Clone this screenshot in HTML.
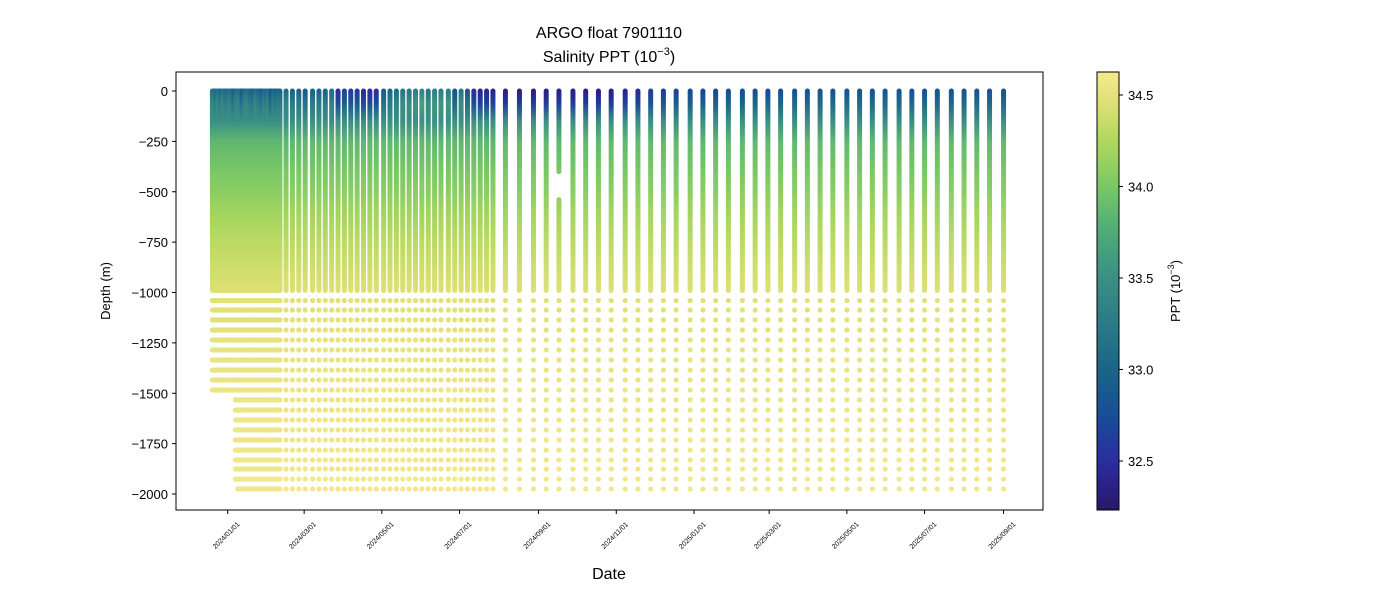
<!DOCTYPE html>
<html><head><meta charset="utf-8"><style>
body{margin:0;background:#fff;}
svg{display:block;font-family:"Liberation Sans","DejaVu Sans",sans-serif;}
</style></head><body>
<svg id="chart" width="1400" height="600" viewBox="0 0 1400 600">
<defs id="defs"></defs>
<rect width="1400" height="600" fill="#fff"/>
<text x="609" y="38" text-anchor="middle" font-size="16">ARGO float 7901110</text>
<text x="609" y="62" text-anchor="middle" font-size="16">Salinity PPT (10<tspan dy="-7" font-size="11">−3</tspan><tspan dy="7">)</tspan></text>
<g id="marks"></g>
<rect x="176" y="72" width="867" height="438" fill="none" stroke="#000" stroke-width="1"/>
<g id="axes"></g>
<text x="609" y="579" text-anchor="middle" font-size="16">Date</text>
<text transform="translate(110,291) rotate(-90)" text-anchor="middle" font-size="13">Depth (m)</text>
<rect x="1097" y="72" width="22" height="438" fill="url(#cbgrad)" stroke="#000" stroke-width="1"/>
<g id="cbaxis"></g>
<text transform="translate(1180,291) rotate(-90)" text-anchor="middle" font-size="13">PPT (10<tspan dy="-6" font-size="9">−3</tspan><tspan dy="6">)</tspan></text>
</svg>
<script>
// ---- data ----
const denseDays = [];
for (let d = -12; d <= 41; d++) denseDays.push(d);
const denseSurface = [33.2,33.1,33.2,33.0,33.1,33.2,33.1,33.0,33.1,33.2,33.1,33.1,33.0,33.1,33.2,33.1,33.1,32.9,33.0,33.1,33.1,33.2,33.1,33.0,32.8,33.0,33.1,33.1,33.2,33.1,33.0,33.1,32.9,33.0,33.1,33.2,33.1,33.0,33.1,32.8,33.0,33.1,33.1,33.0,33.2,33.1,32.9,32.8,33.0,33.1,33.0,32.9,33.1,33.0];
const midDays = [45.8,50.8,55.8,60.8,66.6,71.6,76.6,81.6,86.6,91.6,96.6,101.6,106.6,111.6,116.6,122.4,127.4,132.4,137.4,142.4,147.4,152.4,157.4,162.4,167.4,173.2,178.2,183.2,188.2,193.2,198.2,203.2,208.2];
const midSurface = [33.1,33.0,33.0,32.9,33.0,33.0,33.0,33.1,32.5,32.7,32.6,32.6,32.5,32.5,32.5,32.9,33.0,33.1,33.2,33.2,33.3,33.4,33.2,33.3,33.3,33.3,32.8,33.2,32.9,32.5,32.4,32.4,32.4];
const sparseDays = [218,229,240,250,260,271,281,291,301,312,322,332,342,352,363,373,383,393,404,414,424,434,445,455,465,475,486,496,506,516,527,537,547,557,568,578,588,598,609];
const sparseSurface = [32.35,32.35,32.35,32.35,32.35,32.35,32.35,32.35,32.35,32.4,32.45,32.6,32.6,32.65,32.7,32.7,32.7,32.75,32.75,32.75,32.75,32.75,32.8,32.8,32.8,32.8,32.8,32.8,32.8,32.8,32.8,32.8,32.8,32.8,32.8,32.8,32.8,32.8,32.8];
const profileDepths = [0,60,150,250,400,500,600,750,900,1000];
const profileSal = [null,null,33.5,33.85,34.0,34.08,34.18,34.3,34.4,34.45];
const deepDepths = [1040,1087,1136,1186,1236,1285,1335,1385,1434,1484,1533,1583,1633,1682,1732,1782,1831,1876,1926,1975];
const deepSal = [34.47,34.48,34.49,34.5,34.51,34.52,34.53,34.53,34.54,34.55,34.56,34.56,34.57,34.57,34.58,34.58,34.59,34.59,34.6,34.6];
const gapDays = [260];
const gapFrom = [400];
const gapTo = [540];
const yTicks = [0,-250,-500,-750,-1000,-1250,-1500,-1750,-2000];
const xTickLabels = ["2024/01/01","2024/03/01","2024/05/01","2024/07/01","2024/09/01","2024/11/01","2025/01/01","2025/03/01","2025/05/01","2025/07/01","2025/09/01"];
const xTickDays = [0,60,121,182,244,305,366,425,486,547,609];
const cbTicks = [32.5,33.0,33.5,34.0,34.5];

// ---- scales ----
const X = d => 227.7 + d*1.274;
const Y = m => 91 + m*0.2015;
const CY = s => 461 - (s-32.5)*183;
const cmV = [32.23,32.5,32.75,33.0,33.25,33.5,33.75,34.0,34.25,34.45,34.63];
const cmC = ["#28186a","#2b2da0","#174e97","#1a6588","#2b7a87","#3a8f84","#4fab78","#79c865","#b0d85e","#dde074","#f6e98f"];
function hex(c){return [1,3,5].map(i=>parseInt(c.substr(i,2),16));}
function color(s){
  if (s<=cmV[0]) return cmC[0];
  for (let i=1;i<cmV.length;i++){ if (s<=cmV[i]){const t=(s-cmV[i-1])/(cmV[i]-cmV[i-1]);const a=hex(cmC[i-1]),b=hex(cmC[i]);return "rgb("+a.map((v,k)=>Math.round(v+(b[k]-v)*t)).join(",")+")";}}
  return cmC[cmC.length-1];
}
const NS="http://www.w3.org/2000/svg";
function el(tag,attrs,parent){const e=document.createElementNS(NS,tag);for(const k in attrs)e.setAttribute(k,attrs[k]);parent.appendChild(e);return e;}
const defs=document.getElementById('defs'), marks=document.getElementById('marks'), axes=document.getElementById('axes'), cbaxis=document.getElementById('cbaxis');

const cg=el('linearGradient',{id:'cbgrad',x1:0,y1:1,x2:0,y2:0},defs);
cmV.forEach((v,i)=>el('stop',{offset:((v-32.232)/(34.626-32.232)).toFixed(3),'stop-color':cmC[i]},cg));

let gid=0;
function drawProfile(day, surf, deepStart, deepEnd){
  const sal = profileSal.map((v,i)=> v===null ? (i===0?surf:surf+0.25) : v);
  const id='pg'+(gid++);
  const g=el('linearGradient',{id:id,gradientUnits:'userSpaceOnUse',x1:0,y1:Y(0),x2:0,y2:Y(990)},defs);
  profileDepths.forEach((d,i)=>el('stop',{offset:(d/990).toFixed(3),'stop-color':color(sal[i])},g));
  const x=X(day);
  const gi=gapDays.indexOf(day);
  const segs = gi>=0 ? [[0,gapFrom[gi]],[gapTo[gi],990]] : [[0,990]];
  segs.forEach(sg=>{
    const ln=el('line',{x1:x,x2:x,y1:Y(sg[0]),y2:Y(sg[1]),stroke:'url(#'+id+')','stroke-width':5,'stroke-linecap':'round'},marks);
    
    
  });
  for(let k=deepStart;k<deepEnd;k++){
    const c=el('circle',{cx:x,cy:Y(deepDepths[k]),r:2.6,fill:color(deepSal[k])},marks);
    
    
  }
}
denseDays.forEach((d,i)=>{
  let end = d>=6 ? 19 : 10;
  if (d>=8) end=20;
  drawProfile(d, denseSurface[i], 0, end);
});
midDays.forEach((d,i)=>drawProfile(d, midSurface[i], 0, 20));
sparseDays.forEach((d,i)=>drawProfile(d, sparseSurface[i], 0, 20));

yTicks.forEach(v=>{
  const y=Y(-v);
  el('line',{x1:172,x2:176,y1:y,y2:y,stroke:'#000'},axes);
  const t=el('text',{x:168,y:y+5,'text-anchor':'end','font-size':13},axes);
  t.textContent=String(v).replace('-','−');
  
  
});
xTickDays.forEach((d,i)=>{
  const x=X(d);
  el('line',{x1:x,x2:x,y1:510,y2:514,stroke:'#000'},axes);
  const t=el('text',{x:0,y:0,'text-anchor':'middle','font-size':7,transform:'translate('+(x)+',537) rotate(-45)'},axes);
  t.textContent=xTickLabels[i];
  
  
});
cbTicks.forEach(v=>{
  const y=CY(v);
  el('line',{x1:1119,x2:1123,y1:y,y2:y,stroke:'#000'},cbaxis);
  const t=el('text',{x:1128,y:y+5,'font-size':13},cbaxis);
  t.textContent=v.toFixed(1);
  
  
});
</script>
</body></html>
